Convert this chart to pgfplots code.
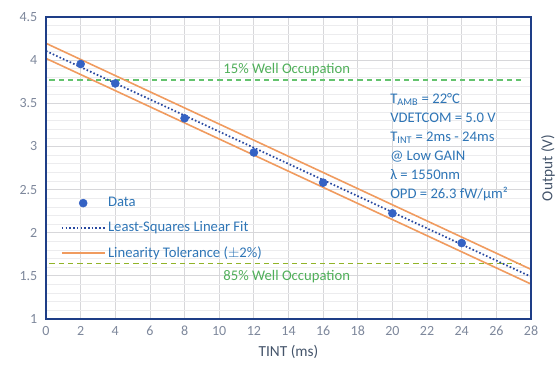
\documentclass[border=0pt]{standalone}
\usepackage{fontspec}
\setmainfont{Carlito}
\usepackage{pgfplots}
\pgfplotsset{compat=1.18}
\definecolor{frameblue}{RGB}{30,62,135}
\definecolor{gridmaj}{RGB}{215,215,218}
\definecolor{gridmin}{RGB}{236,236,238}
\definecolor{datablue}{RGB}{52,98,196}
\definecolor{fitblue}{RGB}{40,72,160}
\definecolor{tolor}{RGB}{240,155,95}
\definecolor{wellgreen}{RGB}{100,195,110}
\definecolor{wellolive}{RGB}{145,180,40}
\definecolor{ticklab}{RGB}{125,135,155}
\definecolor{txtblue}{RGB}{46,117,182}
\definecolor{labcol}{RGB}{68,84,106}
\definecolor{greentxt}{RGB}{80,175,90}
\pgfplotsset{
  dotleg/.style={legend image code/.code={\draw[mark repeat=2,mark phase=2,##1] plot coordinates {(0pt,0pt)(16pt,0pt)(32pt,0pt)};}},
  lineleg/.style={legend image code/.code={\draw[##1] (0pt,0pt) -- (32pt,0pt);}},
}
\begin{document}
\begin{tikzpicture}
\begin{axis}[
  at={(0,0)}, anchor=south west,
  scale only axis, width=363.75pt, height=226.5pt,
  xmin=0, xmax=28, ymin=1, ymax=4.5,
  xtick={0,2,...,28}, ytick={1,1.5,2,2.5,3,3.5,4,4.5},
  minor y tick num=4,
  grid=both,
  major grid style={draw=gridmaj, line width=0.6pt},
  minor grid style={draw=gridmin, line width=0.4pt},
  axis line style={draw=frameblue, line width=2.2pt},
  major tick length=0pt, minor tick length=0pt,
  /pgf/number format/assume math mode=true,
  ticklabel style={font=\fontsize{10.5}{12}\selectfont, text=ticklab},
  xticklabel style={yshift=-2pt},
  yticklabel style={xshift=-3pt},
  xlabel={TINT (ms)},
  xlabel style={at={(rel axis cs:0.5,-0.109)}, anchor=center, font=\fontsize{11.5}{13}\selectfont, text=labcol},
  ylabel={Output (V)},
  ylabel style={at={(rel axis cs:1.035,0.5)}, anchor=center, font=\fontsize{11.5}{13}\selectfont, text=labcol},
  legend style={at={(axis cs:0.62,2.474)}, anchor=north west, draw=none, fill=none,
    font=\fontsize{11}{13}\selectfont, text=txtblue, row sep=5.6pt,
    cells={anchor=west}},
  legend cell align=left,
  clip=false,
  after end axis/.code={\draw[draw=frameblue, line width=2.2pt] (rel axis cs:0,0) rectangle (rel axis cs:1,1);},
]
\addlegendimage{only marks, mark=*, mark size=3pt, color=datablue, dotleg}
\addlegendentry{Data}
\addlegendimage{fitblue, line width=1.3pt, dash pattern=on 1.2pt off 1.6pt, lineleg}
\addlegendentry{Least-Squares Linear Fit}
\addlegendimage{tolor, line width=1.3pt, lineleg}
\addlegendentry{Linearity Tolerance ($\pm$2\%)}

% well occupation lines
\addplot[forget plot, wellgreen, line width=0.9pt, dash pattern=on 4pt off 3pt] coordinates {(0.2,3.77) (27.6,3.77)};
\addplot[forget plot, wellolive, line width=1pt, dash pattern=on 4pt off 3pt] coordinates {(0.2,1.646) (27.6,1.646)};
% tolerance
\addplot[forget plot, tolor, line width=1.2pt] coordinates {(0,4.195) (28,1.575)};
\addplot[forget plot, tolor, line width=1.2pt] coordinates {(0,4.02) (28,1.405)};
% fit
\addplot[forget plot, fitblue, line width=1.3pt, dash pattern=on 1.2pt off 1.6pt] coordinates {(0,4.106) (28,1.49)};
% data
\addplot[forget plot, only marks, mark=*, mark size=3pt, color=datablue] coordinates {
(2,3.955) (4,3.73) (8,3.326) (12,2.93) (16,2.58) (20,2.225) (24,1.88)};

\node[text=greentxt, font=\fontsize{11}{13}\selectfont] at (axis cs:13.9,3.886) {15\% Well Occupation};
\node[text=greentxt, font=\fontsize{11}{13}\selectfont] at (axis cs:13.9,1.49) {85\% Well Occupation};
\node[anchor=north west, inner sep=0pt, align=left, text=txtblue, font=\fontsize{11}{14.25}\selectfont] at (axis cs:19.86,3.62)
 {T\textsubscript{AMB} = 22°C\\
  VDETCOM = 5.0 V\\
  T\textsubscript{INT} = 2ms - 24ms\\
  @ Low GAIN\\
  λ = 1550nm\\
  OPD = 26.3 fW/µm²};
\end{axis}
\pgfresetboundingbox
\path[use as bounding box] (-34.5pt,-36pt) rectangle (385.5pt,239.25pt);
\end{tikzpicture}
\end{document}
